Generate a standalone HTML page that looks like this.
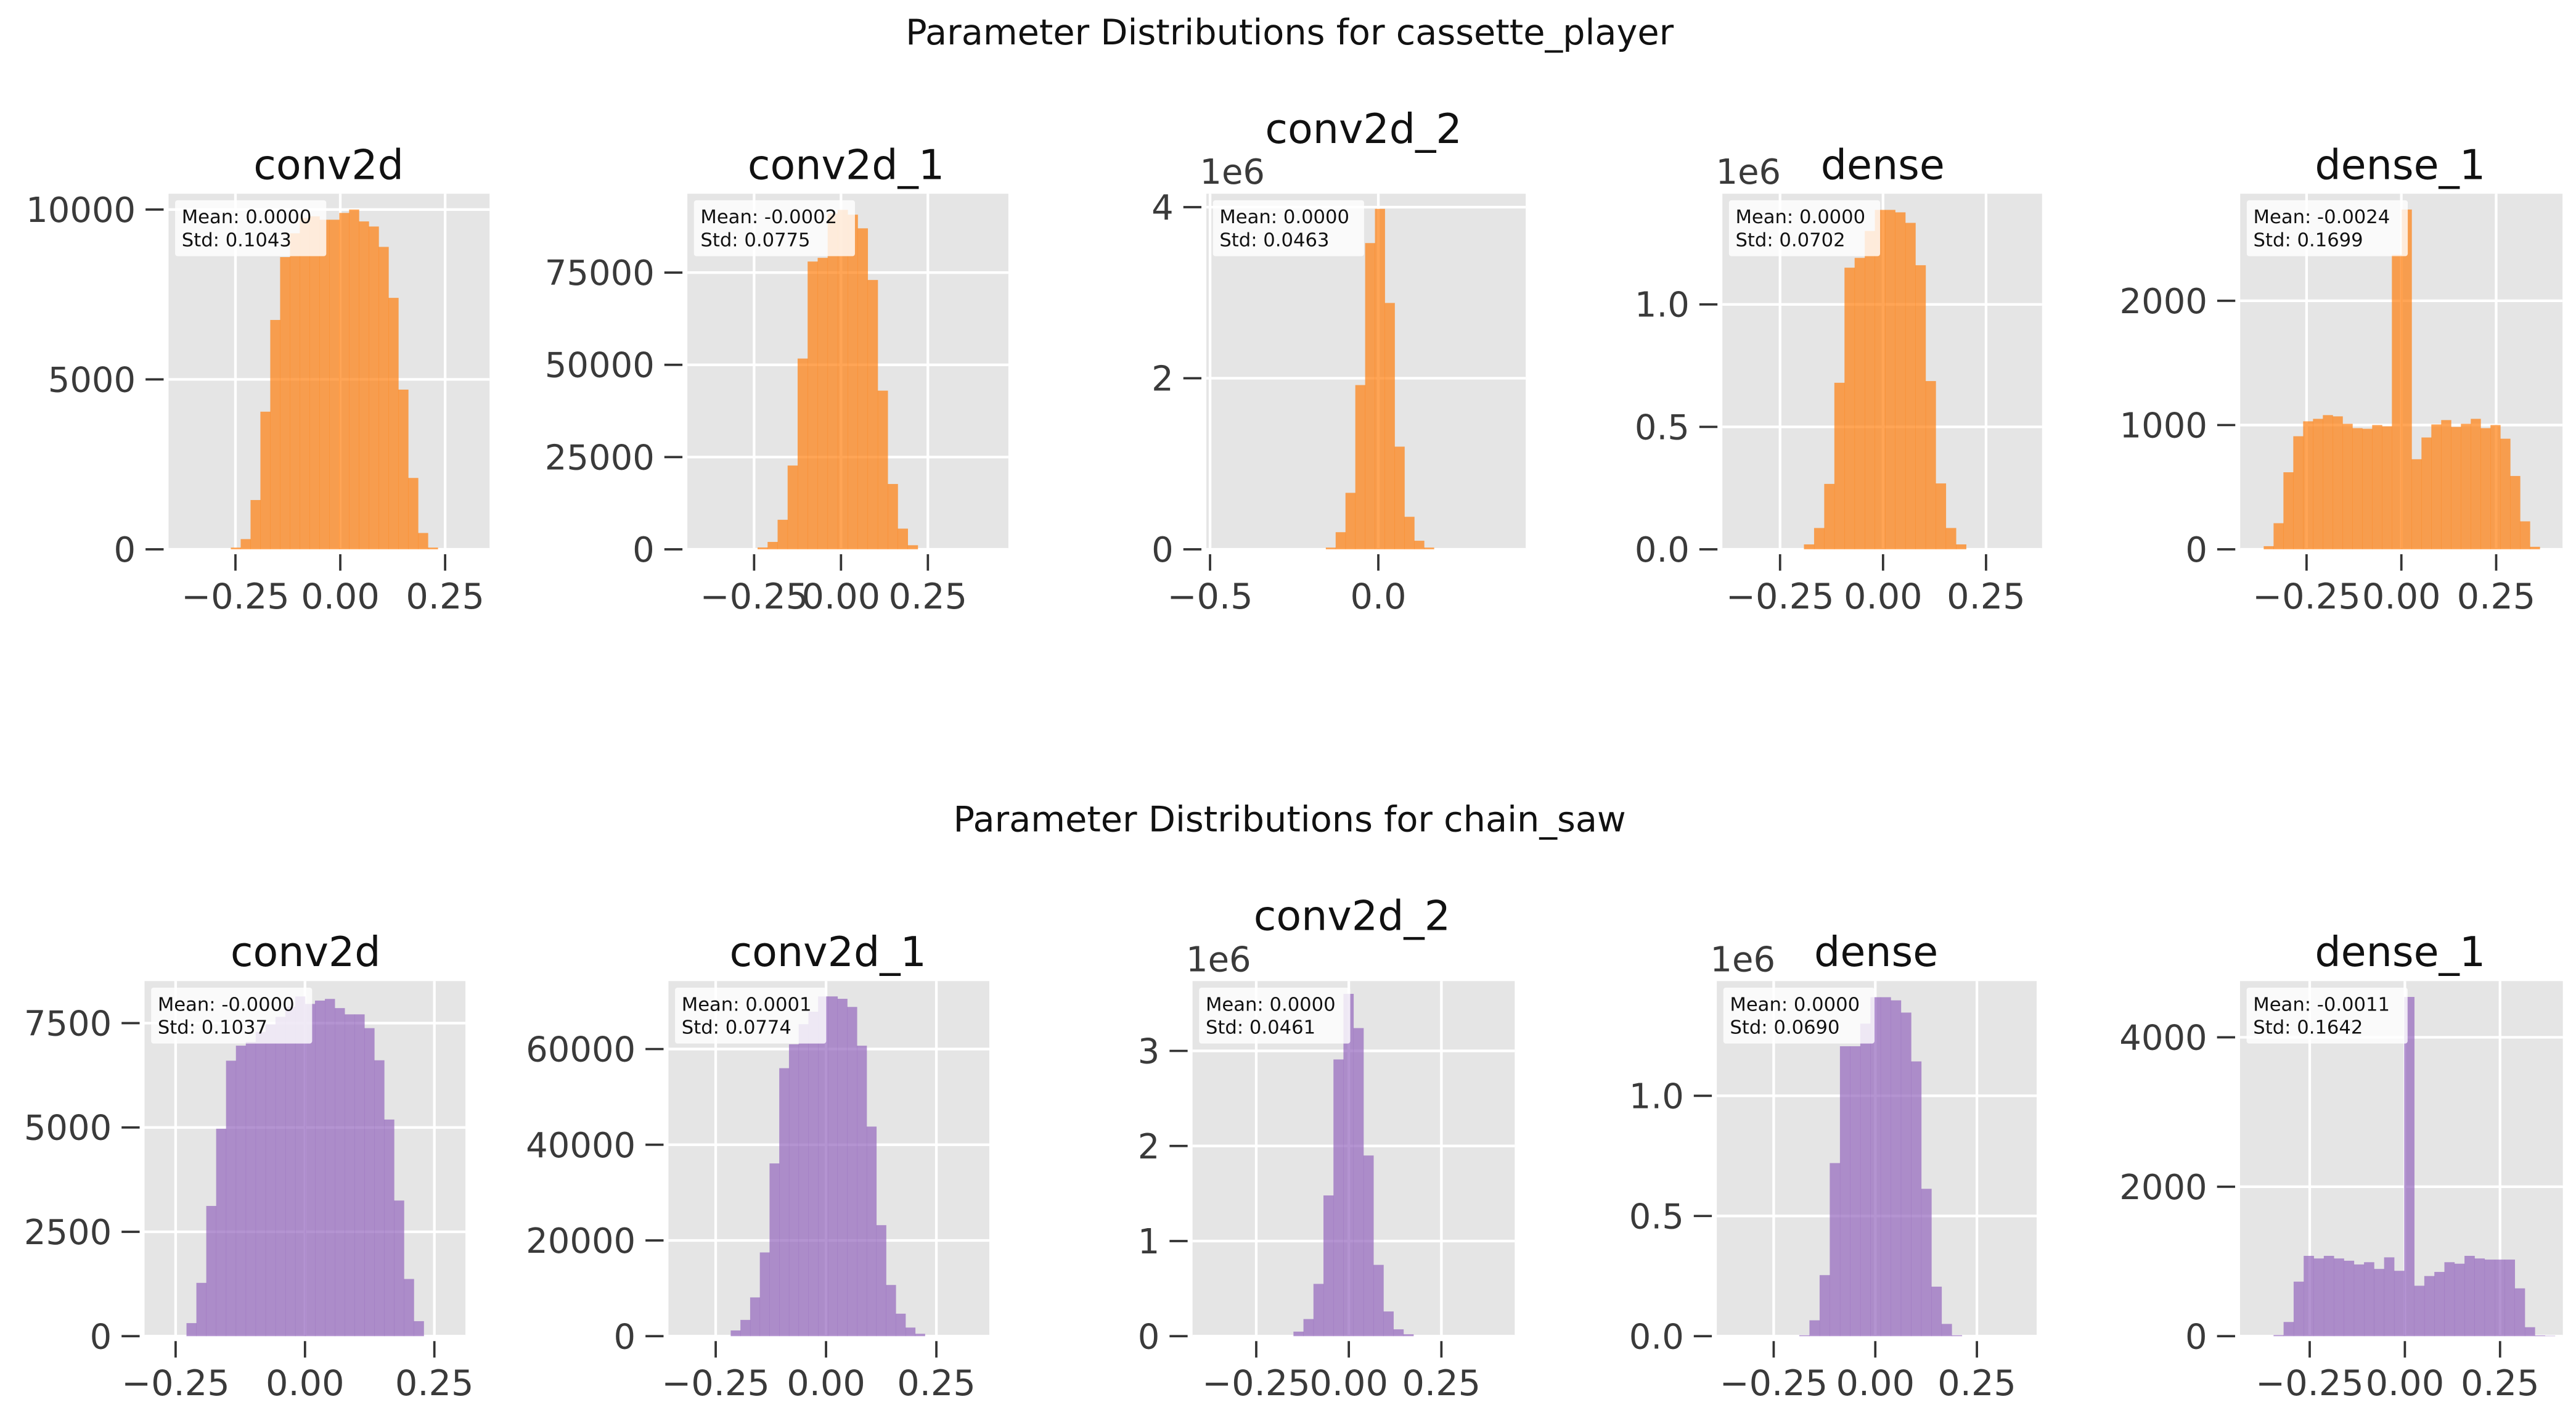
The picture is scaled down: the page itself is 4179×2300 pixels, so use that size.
<!DOCTYPE html>
<html><head><meta charset="utf-8">
<style>
html,body{margin:0;padding:0;background:#fff;}
svg{display:block;}
text{font-family:"DejaVu Sans","Liberation Sans",sans-serif;}
</style></head>
<body>
<svg id="fig" width="4179" height="2300" viewBox="0 0 1568 863" preserveAspectRatio="none" xmlns="http://www.w3.org/2000/svg">
<text x="785" y="27" font-size="21.5" text-anchor="middle" fill="#111">Parameter Distributions for cassette_player</text>
<text x="785" y="506" font-size="21.5" text-anchor="middle" fill="#111">Parameter Distributions for chain_saw</text>
</svg>
<script>
// ---- data (bin start, bin width in data units; counts per bin) ----
const cpConv2dStart = -0.261, cpConv2dWidth = 0.0235;
const cpConv2dCounts = [50,300,1450,4050,6750,8600,9300,9750,9800,9700,9700,9900,10000,9650,9500,8900,7400,4700,2100,480,50,0];
const cpConv2d1Start = -0.24, cpConv2d1Width = 0.0288;
const cpConv2d1Counts = [500,2000,8000,22700,51700,78000,79000,91000,92000,90700,87000,73000,43000,17700,5600,1100];
const cpConv2d2Start = -0.156, cpConv2d2Width = 0.0292;
const cpConv2d2Counts = [0.02,0.2,0.66,1.92,3.58,3.98,2.88,1.2,0.38,0.1,0.02];
const cpDenseStart = -0.192, cpDenseWidth = 0.0246;
const cpDenseCounts = [0.02,0.087,0.267,0.68,1.15,1.19,1.3,1.386,1.386,1.376,1.333,1.16,0.687,0.269,0.087,0.02];
const cpDense1Start = -0.363, cpDense1Width = 0.026;
const cpDense1Counts = [25,210,620,910,1030,1050,1080,1070,1010,975,970,1000,990,2370,2735,725,900,1005,1040,985,1010,1050,975,1000,890,590,225,20];

const csConv2dStart = -0.229, csConv2dWidth = 0.0191;
const csConv2dCounts = [313,1277,3120,4970,6600,6960,7050,7290,7470,7650,7890,8140,7960,8040,8080,7860,7710,7710,7380,6610,5190,3250,1370,360];
const csConv2d1Start = -0.216, csConv2d1Width = 0.022;
const csConv2d1Counts = [1200,3400,8100,17500,36100,56000,61000,65200,67800,71000,71000,70500,68800,60700,43800,23200,10700,4700,1800,500];
const csConv2d2Start = -0.1495, csConv2d2Width = 0.027;
const csConv2d2Counts = [0.048,0.18,0.55,1.48,2.91,3.6,3.24,1.9,0.75,0.26,0.072,0.02];
const csDenseStart = -0.187, csDenseWidth = 0.025;
const csDenseCounts = [0.004,0.066,0.254,0.72,1.206,1.206,1.3,1.41,1.41,1.397,1.346,1.143,0.613,0.206,0.051,0.004];
const csDense1Start = -0.345, csDense1Width = 0.0264;
const csDense1Counts = [15,190,730,1075,1040,1075,1040,1010,960,990,900,1055,875,4540,675,805,860,990,970,1075,1040,1025,1025,1025,640,120,10,5];

// tick labels
const yTicksCpConv2d = [0,5000,10000];
const yTicksCpConv2d1 = [0,25000,50000,75000];
const yTicksCpConv2d2 = [0,2,4];
const yTicksCpDense = [0.0,0.5,1.0];
const yTicksCpDense1 = [0,1000,2000];
const yTicksCsConv2d = [0,2500,5000,7500];
const yTicksCsConv2d1 = [0,20000,40000,60000];
const yTicksCsConv2d2 = [0,1,2,3];
const yTicksCsDense = [0.0,0.5,1.0];
const yTicksCsDense1 = [0,2000,4000];
const xTicksQuarter = [-0.25,0,0.25];
const xTicksHalf = [-0.5,0];
const statsCp = [["0.0000","0.1043"],["-0.0002","0.0775"],["0.0000","0.0463"],["0.0000","0.0702"],["-0.0024","0.1699"]];
const statsCs = [["-0.0000","0.1037"],["0.0001","0.0774"],["0.0000","0.0461"],["0.0000","0.0690"],["-0.0011","0.1642"]];

// ---- layout ----
const NS = "http://www.w3.org/2000/svg";
const svg = document.getElementById('fig');
function el(tag, attrs, parent){ const e=document.createElementNS(NS,tag); for(const k in attrs) e.setAttribute(k,attrs[k]); (parent||svg).appendChild(e); return e; }

const R1 = {top:117.9, bottom:334.3}, R2 = {top:597.1, bottom:813.2};
const panels = [
 {key:'cp-conv2d', title:'conv2d', row:R1, x0:102.6, x1:298, xmin:-0.4095, xmax:0.356, ymax:10465, start:cpConv2dStart, w:cpConv2dWidth, counts:cpConv2dCounts, yt:yTicksCpConv2d, xt:xTicksQuarter, xfmt:2, yfmt:0, color:'#ff7f0e', tx:200, ty:109, stats:statsCp[0]},
 {key:'cp-conv2d-1', title:'conv2d_1', row:R1, x0:418.4, x1:613.8, xmin:-0.442, xmax:0.4816, ymax:96380, start:cpConv2d1Start, w:cpConv2d1Width, counts:cpConv2d1Counts, yt:yTicksCpConv2d1, xt:xTicksQuarter, xfmt:2, yfmt:0, color:'#ff7f0e', tx:515, ty:109, stats:statsCp[1]},
 {key:'cp-conv2d-2', title:'conv2d_2', row:R1, x0:734.3, x1:928.7, xmin:-0.511, xmax:0.438, ymax:4.157, start:cpConv2d2Start, w:cpConv2d2Width, counts:cpConv2d2Counts, yt:yTicksCpConv2d2, xt:xTicksHalf, xfmt:1, yfmt:0, color:'#ff7f0e', tx:830, ty:87, off:true, stats:statsCp[2]},
 {key:'cp-dense', title:'dense', row:R1, x0:1048.4, x1:1243, xmin:-0.39, xmax:0.386, ymax:1.452, start:cpDenseStart, w:cpDenseWidth, counts:cpDenseCounts, yt:yTicksCpDense, xt:xTicksQuarter, xfmt:2, yfmt:1, color:'#ff7f0e', tx:1146, ty:109, off:true, stats:statsCp[3]},
 {key:'cp-dense-1', title:'dense_1', row:R1, x0:1363.6, x1:1559.8, xmin:-0.425, xmax:0.425, ymax:2862, start:cpDense1Start, w:cpDense1Width, counts:cpDense1Counts, yt:yTicksCpDense1, xt:xTicksQuarter, xfmt:2, yfmt:0, color:'#ff7f0e', tx:1461, ty:109, stats:statsCp[4]},
 {key:'cs-conv2d', title:'conv2d', row:R2, x0:88, x1:283.3, xmin:-0.31, xmax:0.31, ymax:8507, start:csConv2dStart, w:csConv2dWidth, counts:csConv2dCounts, yt:yTicksCsConv2d, xt:xTicksQuarter, xfmt:2, yfmt:0, color:'#9467bd', tx:186, ty:588, stats:statsCs[0]},
 {key:'cs-conv2d-1', title:'conv2d_1', row:R2, x0:406.9, x1:602.2, xmin:-0.357, xmax:0.37, ymax:74200, start:csConv2d1Start, w:csConv2d1Width, counts:csConv2d1Counts, yt:yTicksCsConv2d1, xt:xTicksQuarter, xfmt:2, yfmt:0, color:'#9467bd', tx:504, ty:588, stats:statsCs[1]},
 {key:'cs-conv2d-2', title:'conv2d_2', row:R2, x0:725.9, x1:922, xmin:-0.422, xmax:0.448, ymax:3.734, start:csConv2d2Start, w:csConv2d2Width, counts:csConv2d2Counts, yt:yTicksCsConv2d2, xt:xTicksQuarter, xfmt:2, yfmt:0, color:'#9467bd', tx:823, ty:566, off:true, stats:statsCs[2]},
 {key:'cs-dense', title:'dense', row:R2, x0:1045, x1:1239.7, xmin:-0.39, xmax:0.397, ymax:1.477, start:csDenseStart, w:csDenseWidth, counts:csDenseCounts, yt:yTicksCsDense, xt:xTicksQuarter, xfmt:2, yfmt:1, color:'#9467bd', tx:1142, ty:588, off:true, stats:statsCs[3]},
 {key:'cs-dense-1', title:'dense_1', row:R2, x0:1363.5, x1:1560, xmin:-0.433, xmax:0.415, ymax:4752, start:csDense1Start, w:csDense1Width, counts:csDense1Counts, yt:yTicksCsDense1, xt:xTicksQuarter, xfmt:2, yfmt:0, color:'#9467bd', tx:1461, ty:588, stats:statsCs[4]}
];

function fmtX(v,d){ const s=Math.abs(v).toFixed(d); return (v<0?'\u2212':'')+s; }

panels.forEach(p=>{
  const g = el('g',{});
  
  
  const top=p.row.top, bot=p.row.bottom;
  const sx = v => p.x0 + (v-p.xmin)/(p.xmax-p.xmin)*(p.x1-p.x0);
  const sy = v => bot - v/p.ymax*(bot-top);
  const bg = el('rect',{x:p.x0,y:top,width:p.x1-p.x0,height:bot-top,fill:'#e5e5e5'},g);
  
  
  p.xt.forEach(t=>{ const l=el('line',{x1:sx(t),x2:sx(t),y1:top,y2:bot,stroke:'#fff','stroke-width':1.6},g);
    
     });
  p.yt.forEach(t=>{ const l=el('line',{x1:p.x0,x2:p.x1,y1:sy(t),y2:sy(t),stroke:'#fff','stroke-width':1.6},g);
    
     });
  p.counts.forEach((c,i)=>{
    const a=p.start+i*p.w, b=a+p.w;
    const r=el('rect',{x:sx(a),y:sy(c),width:sx(b)-sx(a)+0.15,height:bot-sy(c),fill:p.color,'fill-opacity':0.7},g);
    
    
  });
  p.xt.forEach(t=>{
    const x=sx(t);
    const tk=el('line',{x1:x,x2:x,y1:bot+3,y2:bot+13,stroke:'#333','stroke-width':1.4},g);
    
    
    const tl=el('text',{x:x,y:bot+36,'font-size':21.5,'text-anchor':'middle',fill:'#3a3a3a'},g);
    tl.textContent=fmtX(t,p.xfmt);
    
    
  });
  p.yt.forEach(t=>{
    const y=sy(t);
    const tk=el('line',{x1:p.x0-14,x2:p.x0-3,y1:y,y2:y,stroke:'#333','stroke-width':1.4},g);
    
    
    const tl=el('text',{x:p.x0-20,y:y+7.5,'font-size':21,'text-anchor':'end',fill:'#3a3a3a'},g);
    tl.textContent=p.yfmt?t.toFixed(p.yfmt):String(t);
    
    
  });
  if(p.off){
    const o=el('text',{x:p.x0-4,y:top-6,'font-size':21,'text-anchor':'start',fill:'#3a3a3a'},g);
    o.textContent='1e6';
    
    
  }
  const tt=el('text',{x:p.tx,y:p.ty,'font-size':25,'text-anchor':'middle',fill:'#111'},g);
  tt.textContent=p.title;
  
  
  const box=el('rect',{x:p.x0+4,y:top+4,width:p.stats[0].startsWith('-')?98:92,height:34,fill:'#fff','fill-opacity':0.8,rx:1.5},g);
  
  
  const t1=el('text',{x:p.x0+8,y:top+18,'font-size':11.5,fill:'#111'},g);
  t1.textContent='Mean: '+p.stats[0];
  
  
  const t2=el('text',{x:p.x0+8,y:top+32,'font-size':11.5,fill:'#111'},g);
  t2.textContent='Std: '+p.stats[1];
  
  
});
</script>
</body></html>
